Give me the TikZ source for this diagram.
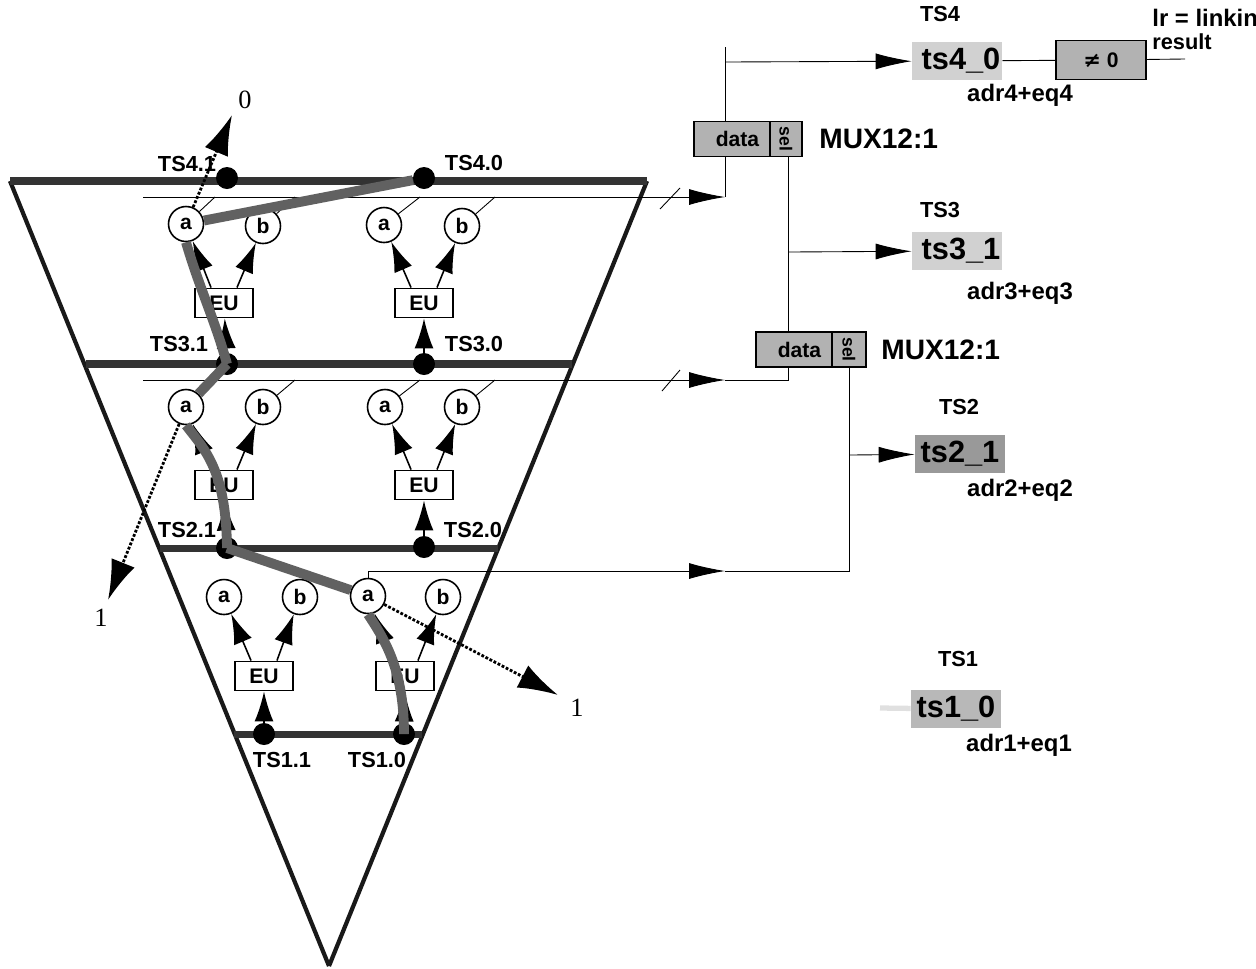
\documentclass[tikz,border=0pt]{standalone}
\usepackage{fontspec}
\setmainfont{Liberation Sans}
\newfontfamily\symfont{DejaVu Sans}
\usetikzlibrary{arrows.meta}
\tikzset{
  edge/.style={line width=2.4pt,black!90},
  level/.style={line width=4pt,black!80},
  bus/.style={line width=0.5pt},
  arrow/.style={line width=0.5pt,-{Latex[length=0.72cm,width=0.32cm]}},
  feed/.style={line width=0.9pt,-{Latex[length=0.6cm,width=0.38cm]}},
  probe/.style={line width=1.6pt,densely dotted,-{Latex[length=0.8cm,width=0.5cm]}},
  trace/.style={line width=5.6pt,black!62},
  ball/.style={
    circle,
    inner sep=0pt,
    minimum size=0.44cm,
    fill=black
  },
  reg/.style={
    circle,
    inner sep=0pt,
    minimum size=0.7cm,
    draw=black,
    line width=0.9pt,
    fill=white,
    font=\bfseries\fontsize{12}{14}\selectfont
  },
  eu/.style={
    rectangle,
    inner sep=0pt,
    minimum width=1.16cm,
    minimum height=0.58cm,
    draw=black,
    line width=1.1pt,
    fill=white,
    font=\bfseries\fontsize{12}{14}\selectfont
  },
  lab/.style={inner sep=0pt,font=\bfseries\fontsize{12.4}{14}\selectfont},
  adr/.style={inner sep=0pt,font=\bfseries\fontsize{13.6}{16}\selectfont},
  num/.style={inner sep=0pt,font=\fontspec{Liberation Serif}\fontsize{15}{17}\selectfont},
  mux/.style={
    rectangle,
    inner sep=0pt,
    minimum height=0.7cm,
    draw=black,
    line width=0.9pt,
    fill=black!30,
    font=\bfseries\fontsize{12}{14}\selectfont
  },
  selbox/.style={mux,font=\bfseries\fontsize{10}{12}\selectfont},
  muxname/.style={inner sep=0pt,anchor=west,font=\bfseries\fontsize{16}{18}\selectfont},
  ts/.style={
    rectangle,
    inner sep=0pt,
    minimum width=1.8cm,
    minimum height=0.76cm,
    fill=black!18,
    font=\bfseries\fontsize{17.5}{20}\selectfont
  }
}
\begin{document}
\begin{tikzpicture}[x=0.02cm,y=-0.02cm]
  \useasboundingbox (0,0) rectangle (1256,968);
  % cone
  \coordinate (tl) at (10,181);
  \coordinate (tr) at (647,181);
  \coordinate (apex) at (329,966);
  \draw[edge] (tl) -- (apex);
  \draw[edge] (tr) -- (apex);
  % levels
  \coordinate (l4a) at (10,181);
  \coordinate (l4b) at (647,181);
  \coordinate (l3a) at (86,364);
  \coordinate (l3b) at (572,364);
  \coordinate (l2a) at (160,548);
  \coordinate (l2b) at (498,548);
  \coordinate (l1a) at (234,734);
  \coordinate (l1b) at (422,734);
  \draw[level] (l4a) -- (l4b);
  \draw[level] (l3a) -- (l3b);
  \draw[level] (l2a) -- (l2b);
  \draw[level] (l1a) -- (l1b);
  \node (d41) [ball] at (227,178) {};
  \node (d40) [ball] at (424,178) {};
  \node (d31) [ball] at (227,364) {};
  \node (d30) [ball] at (424,364) {};
  \node (d21) [ball] at (227,548) {};
  \node (d20) [ball] at (424,547) {};
  \node (d11) [ball] at (264,734) {};
  \node (d10) [ball] at (404,734) {};
  \node[lab] at (187,164) {TS4.1};
  \node[lab] at (474,163) {TS4.0};
  \node[lab] at (179,344) {TS3.1};
  \node[lab] at (474,344) {TS3.0};
  \node[lab] at (187,530) {TS2.1};
  \node[lab] at (473,530) {TS2.0};
  \node[lab] at (282,760) {TS1.1};
  \node[lab] at (377,760) {TS1.0};
  % registers
  \node (a4a) [reg] at (186,224) {a};
  \node (a4b) [reg] at (263,226) {b};
  \node (a3a) [reg] at (384,225) {a};
  \node (a3b) [reg] at (462,226) {b};
  \node (b4a) [reg] at (186,407) {a};
  \node (b4b) [reg] at (263,407) {b};
  \node (b3a) [reg] at (385,407) {a};
  \node (b3b) [reg] at (462,407) {b};
  \node (c4a) [reg] at (224,597) {a};
  \node (c4b) [reg] at (300,597) {b};
  \node (c3a) [reg] at (368,596) {a};
  \node (c3b) [reg] at (443,597) {b};
  \node (eu41) [eu] at (224,303) {EU};
  \node (eu40) [eu] at (424,303) {EU};
  \node (eu31) [eu] at (224,485) {EU};
  \node (eu30) [eu] at (424,485) {EU};
  \node (eu21) [eu] at (264,676) {EU};
  \node (eu20) [eu] at (405,676) {EU};
  % EU feeds
  \draw[feed] (d31) -- (eu41);
  \draw[feed] (d30) -- (eu40);
  \draw[feed] (d21) -- (eu31);
  \draw[feed] (d20) -- (eu30);
  \draw[feed] (d11) -- (eu21);
  \draw[feed] (d10) -- (eu20);
  \draw[feed] (eu41.130) -- (a4a);
  \draw[feed] (eu41.50) -- (a4b);
  \draw[feed] (eu40.130) -- (a3a);
  \draw[feed] (eu40.50) -- (a3b);
  \draw[feed] (eu31.130) -- (b4a);
  \draw[feed] (eu31.50) -- (b4b);
  \draw[feed] (eu30.130) -- (b3a);
  \draw[feed] (eu30.50) -- (b3b);
  \draw[feed] (eu21.130) -- (c4a);
  \draw[feed] (eu21.50) -- (c4b);
  \draw[feed] (eu20.130) -- (c3a);
  \draw[feed] (eu20.50) -- (c3b);
  % result buses
  \coordinate (bus1) at (143,197);
  \coordinate (bus2) at (143,380);
  \coordinate (t1) at (725,197);
  \coordinate (t2) at (725,380);
  \coordinate (t3) at (725,571);
  \coordinate (c3top) at (368,571);
  \draw[arrow] (bus1) -- (t1);
  \draw[arrow] (bus2) -- (t2);
  \draw[bus] (660,209) -- (680,188);
  \draw[bus] (662,391) -- (680,370);
  \draw[bus] (c3a) -- (c3top);
  \draw[arrow] (c3top) -- (t3);
  \draw[bus] (a4a) -- (215,197);
  \draw[bus] (a4b) -- (295,197);
  \draw[bus] (a3a) -- (420,197);
  \draw[bus] (a3b) -- (495,197);
  \draw[bus] (b4a) -- (215,380);
  \draw[bus] (b4b) -- (295,380);
  \draw[bus] (b3a) -- (420,380);
  \draw[bus] (b3b) -- (495,380);
  % active path
  \draw[trace] (d40) -- (a4a);
  \draw[trace] (a4a.south) .. controls (200,290) and (215,320) .. (d31.center);
  \draw[trace] (d31.center) -- (b4a);
  \draw[trace] (b4a.south) .. controls (205,450) and (226,470) .. (d21.center);
  \draw[trace] (d21.center) -- (c3a);
  \draw[trace] (c3a.south) .. controls (385,640) and (404,670) .. (d10.center);
  % outcomes
  \node (n0) [num] at (245,100) {0};
  \node (n1) [num] at (101,618) {1};
  \node (n2) [num] at (577,708) {1};
  \coordinate (p0) at (232,115);
  \coordinate (p1) at (108,600);
  \coordinate (p2) at (558,695);
  \draw[probe] (a4a) -- (p0);
  \draw[probe] (b4a) -- (p1);
  \draw[probe] (c3a) -- (p2);
  % muxes
  \node (m1d) [mux,minimum width=1.52cm] at (732,139) {\hspace*{0.22cm}data};
  \node (m1s) [selbox,minimum width=0.64cm] at (786,139) {\rotatebox{-90}{sel}};
  \node (m2d) [mux,minimum width=1.52cm] at (794,349.5) {\hspace*{0.22cm}data};
  \node (m2s) [selbox,minimum width=0.68cm] at (849,349.5) {\rotatebox{-90}{sel}};
  \node[muxname] at (819,139) {MUX12:1};
  \node[muxname] at (881,350) {MUX12:1};
  % select states
  \node (ts4) [ts] at (957,61) {\hspace*{0.16cm}ts4\_0};
  \node (ts3) [ts] at (957,251) {\hspace*{0.16cm}ts3\_1};
  \node (ts2) [ts,fill=black!40] at (960,454) {ts2\_1};
  \node (ts1) [ts,fill=black!28] at (956,709) {ts1\_0};
  \node (ne) [mux,minimum width=1.8cm,minimum height=0.78cm] at (1101,60) {{\symfont ≠} 0};
  \node[lab] at (940,14) {TS4};
  \node[lab] at (940,210) {TS3};
  \node[lab] at (959,407) {TS2};
  \node[lab] at (958,659) {TS1};
  \node[adr] at (1020,95) {adr4+eq4};
  \node[adr] at (1020,293) {adr3+eq3};
  \node[adr] at (1020,490) {adr2+eq2};
  \node[adr] at (1019,745) {adr1+eq1};
  \node[adr,anchor=west] at (1152,18) {lr = linkin};
  \node[lab,anchor=west] at (1152,42) {result};
  \coordinate (out) at (1185,59);
  \coordinate (j4) at (725,62);
  \coordinate (j3) at (788,252);
  \coordinate (j2) at (849,455);
  \coordinate (top) at (725,47);
  \coordinate (m1in) at (725,156);
  \coordinate (m1out) at (725,122);
  \coordinate (m1sel) at (788,156);
  \coordinate (m2out) at (788,332);
  \coordinate (m2in) at (788,367);
  \coordinate (m2sel) at (849,367);
  \coordinate (t3end) at (849,571);
  \coordinate (f1) at (880,708);
  \draw[bus] (t1) -- (m1in);
  \draw[bus] (m1out) -- (top);
  \draw[arrow] (j4) -- (ts4);
  \draw[bus] (ts4) -- (ne);
  \draw[bus] (ne) -- (out);
  \draw[bus] (m1sel) -- (m2out);
  \draw[arrow] (j3) -- (ts3);
  \draw[bus] (t2) -| (m2in);
  \draw[bus] (t3) -- (t3end) -- (m2sel);
  \draw[arrow] (j2) -- (ts2);
  \draw[line width=3pt,black!12] (f1) -- (ts1);
\end{tikzpicture}
\end{document}
